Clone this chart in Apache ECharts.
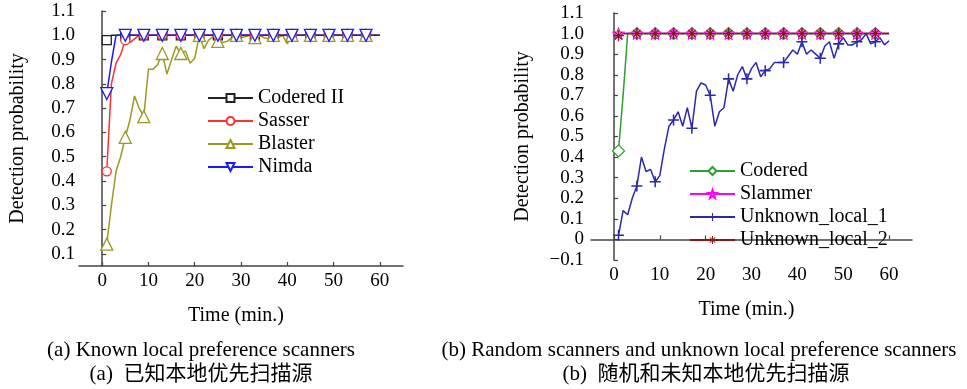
<!DOCTYPE html>
<html>
<head>
<meta charset="utf-8">
<script src="https://cdn.jsdelivr.net/npm/echarts@6/dist/echarts.min.js"></script>
<style>
  html, body { margin: 0; padding: 0; background: #fff; }
  #chart { width: 967px; height: 389px; }
</style>
</head>
<body>
<div id="chart"></div>
<script>
// minutes sampled (1 point per minute)
var minutes = [1,2,3,4,5,6,7,8,9,10,11,12,13,14,15,16,17,18,19,20,
  21,22,23,24,25,26,27,28,29,30,31,32,33,34,35,36,37,38,39,40,
  41,42,43,44,45,46,47,48,49,50,51,52,53,54,55,56,57,58,59,60];

// (a) known local preference scanners
var coderedII = [0.98,1,1,1,1,1,1,1,1,1, 1,1,1,1,1,1,1,1,1,1,
  1,1,1,1,1,1,1,1,1,1, 1,1,1,1,1,1,1,1,1,1, 1,1,1,1,1,1,1,1,1,1, 1,1,1,1,1,1,1,1,1,1];
var sasser = [0.44,0.80,0.885,0.92,0.98,0.97,0.985,1,1,1, 1,1,1,1,1,1,1,1,1,1,
  1,1,1,1,1,1,1,1,1,1, 1,1,1,1,1,1,1,1,1,1, 1,1,1,1,1,1,1,1,1,1, 1,1,1,1,1,1,1,1,1,1];
var blaster = [0.14,0.30,0.44,0.50,0.58,0.65,0.75,0.70,0.665,0.86,
  0.86,0.88,0.925,0.84,0.90,0.955,0.925,0.935,0.885,0.905,
  1.0,0.945,0.98,0.995,0.975,0.97,0.975,0.99,1.0,0.99,
  0.995,1.0,0.99,1.0,0.99,0.985,1.0,0.99,1.0,0.965,
  1,1,1,1,1,1,1,1,1,1, 1,1,1,1,1,1,1,1,1,1];
var nimda = [0.76,0.89,1,1,1,1,1,1,1,1, 1,1,1,1,1,1,1,1,1,1,
  1,1,1,1,1,1,1,1,1,1, 1,1,1,1,1,1,1,1,1,1, 1,1,1,1,1,1,1,1,1,1, 1,1,1,1,1,1,1,1,1,1];

// (b) random scanners and unknown local preference scanners
var codered = [0.43,0.70,1,1,1,1,1,1,1,1, 1,1,1,1,1,1,1,1,1,1,
  1,1,1,1,1,1,1,1,1,1, 1,1,1,1,1,1,1,1,1,1, 1,1,1,1,1,1,1,1,1,1, 1,1,1,1,1,1,1,1,1,1];
var slammer = [1,1,1,1,1,1,1,1,1,1, 1,1,1,1,1,1,1,1,1,1,
  1,1,1,1,1,1,1,1,1,1, 1,1,1,1,1,1,1,1,1,1, 1,1,1,1,1,1,1,1,1,1, 1,1,1,1,1,1,1,1,1,1];
var unknownLocal1 = [0.02,0.14,0.12,0.20,0.26,0.40,0.33,0.34,0.28,0.31,
  0.44,0.55,0.58,0.62,0.55,0.64,0.54,0.72,0.76,0.75,
  0.70,0.55,0.62,0.64,0.78,0.72,0.80,0.84,0.78,0.83,
  0.86,0.79,0.82,0.83,0.86,0.86,0.86,0.89,0.92,0.90,
  0.96,0.90,0.92,0.90,0.88,0.94,0.96,0.88,0.95,0.98,
  0.945,0.945,0.96,0.97,1.0,0.95,0.96,0.98,0.945,0.965];
var unknownLocal2 = [0.99,1,1,1,1,1,1,1,1,1, 1,1,1,1,1,1,1,1,1,1,
  1,1,1,1,1,1,1,1,1,1, 1,1,1,1,1,1,1,1,1,1, 1,1,1,1,1,1,1,1,1,1, 1,1,1,1,1,1,1,1,1,1];

var xTicks = [0,10,20,30,40,50,60];
var yTicksA = [0.1,0.2,0.3,0.4,0.5,0.6,0.7,0.8,0.9,1.0,1.1];
var yTicksB = [-0.1,0,0.1,0.2,0.3,0.4,0.5,0.6,0.7,0.8,0.9,1.0,1.1];

var serif = 'Liberation Serif';
var axisColor = '#444';

var starPath = 'path://M5,0 L6.18,3.38 L9.76,3.46 L6.9,5.62 L7.94,9.05 L5,7 L2.06,9.05 L3.1,5.62 L0.24,3.46 L3.82,3.38 Z';
var plusPath = 'path://M4.3,0 L5.7,0 L5.7,4.3 L10,4.3 L10,5.7 L5.7,5.7 L5.7,10 L4.3,10 L4.3,5.7 L0,5.7 L0,4.3 L4.3,4.3 Z';
var asteriskPath = 'path://M4.4,0 L5.6,0 L5.6,10 L4.4,10 Z M0,4.4 L10,4.4 L10,5.6 L0,5.6 Z M1.2,2 L2,1.2 L8.8,8 L8,8.8 Z M8,1.2 L8.8,2 L2,8.8 L1.2,8 Z';

function pairs(vals) {
  return minutes.map(function (m, i) { return [m, vals[i]]; });
}

function markSize(size) {
  return function (val, params) { return params.dataIndex % 4 === 0 ? size : 0; };
}

function line(name, vals, color, symbol, size, gi, opts) {
  var s = {
    name: name,
    type: 'line',
    xAxisIndex: gi,
    yAxisIndex: gi,
    data: pairs(vals),
    symbol: symbol,
    symbolSize: markSize(size),
    showAllSymbol: true,
    lineStyle: { color: color, width: 1.5 },
    itemStyle: { color: '#fff', borderColor: color, borderWidth: 1.3 },
    animation: false
  };
  if (opts) { for (var k in opts) s[k] = opts[k]; }
  return s;
}

function xAxis(gi) {
  return {
    type: 'value', gridIndex: gi, min: -5, max: 65,
    name: 'Time (min.)', nameLocation: 'middle', nameGap: 40, nameMoveOverlap: false,
    nameTextStyle: { fontFamily: serif, fontSize: 20, color: '#000', padding: [0, 10, 0, 0] },
    axisLine: { lineStyle: { color: axisColor, width: 1.5 } },
    axisTick: { inside: true, length: 4, customValues: xTicks, lineStyle: { color: axisColor, width: 1.2 } },
    axisLabel: { customValues: xTicks, margin: 6, fontFamily: serif, fontSize: 19, color: '#000' },
    splitLine: { show: false }
  };
}

function yAxis(gi, min, ticks, gap, margin, fmt) {
  return {
    type: 'value', gridIndex: gi, min: min, max: 1.1,
    name: 'Detection probability', nameLocation: 'middle', nameGap: gap, nameRotate: 90,
    nameMoveOverlap: false,
    nameTextStyle: { fontFamily: serif, fontSize: 20, color: '#000' },
    axisLine: { show: true, lineStyle: { color: axisColor, width: 1.5 } },
    axisTick: { show: true, inside: true, length: 4, customValues: ticks, lineStyle: { color: axisColor, width: 1.2 } },
    axisLabel: { customValues: ticks, margin: margin, fontFamily: serif, fontSize: 19, color: '#000', formatter: fmt },
    splitLine: { show: false }
  };
}

var legendBase = {
  orient: 'vertical',
  itemWidth: 45,
  itemHeight: 10,
  itemGap: 3,
  selectedMode: false,
  textStyle: { fontFamily: serif, fontSize: 20, color: '#000', lineHeight: 20 }
};

var chart = echarts.init(document.getElementById('chart'), null, { renderer: 'canvas' });
chart.setOption({
  backgroundColor: '#fff',
  animation: false,
  grid: [
    { left: 79, top: 11, width: 324, height: 255, outerBoundsMode: 'none' },
    { left: 591, top: 13, width: 321, height: 247, outerBoundsMode: 'none' }
  ],
  xAxis: [xAxis(0), xAxis(1)],
  yAxis: [
    yAxis(0, 0.05, yTicksA, 51, 4, function (v) { return v.toFixed(1); }),
    yAxis(1, -0.1, yTicksB, 58, 7, function (v) {
      if (Math.abs(v) < 1e-9) return '0';
      if (v < 0) return '\u2212' + Math.abs(v).toFixed(1);
      return v.toFixed(1);
    })
  ],
  legend: [
    Object.assign({}, legendBase, { left: 202, top: 83, data: ['Codered II', 'Sasser', 'Blaster', 'Nimda'] }),
    Object.assign({}, legendBase, { left: 684, top: 156, data: ['Codered', 'Slammer', 'Unknown_local_1', 'Unknown_local_2'] })
  ],
  series: [
    line('Codered II', coderedII, '#222', 'rect', 9, 0),
    line('Sasser', sasser, '#ff3030', 'circle', 9, 0),
    line('Blaster', blaster, '#9a9a22', 'triangle', 12, 0),
    line('Nimda', nimda, '#1a1aff', 'triangle', 12, 0, { symbolRotate: 180 }),
    line('Codered', codered, '#2fa02f', 'diamond', 12, 1),
    line('Slammer', slammer, '#ff00ff', starPath, 12, 1, { itemStyle: { color: '#ff99ff', borderColor: '#ff00ff', borderWidth: 1 } }),
    line('Unknown_local_1', unknownLocal1, '#2a2aae', plusPath, 11, 1, { itemStyle: { color: '#2a2aae' } }),
    line('Unknown_local_2', unknownLocal2, '#8b1414', asteriskPath, 11, 1, { itemStyle: { color: '#8b1414' } })
  ],
  graphic: [
    { type: 'text', x: 201, y: 340, style: { text: '(a) Known local preference scanners', font: '21px "Liberation Serif"', fill: '#000', align: 'center' } },
    { type: 'text', x: 201, y: 364, style: { text: '(a)  已知本地优先扫描源', font: '21px "Liberation Serif", "Noto Sans CJK SC"', fill: '#000', align: 'center' } },
    { type: 'text', x: 699, y: 340, style: { text: '(b) Random scanners and unknown local preference scanners', font: '21px "Liberation Serif"', fill: '#000', align: 'center' } },
    { type: 'text', x: 706, y: 364, style: { text: '(b)  随机和未知本地优先扫描源', font: '21px "Liberation Serif", "Noto Sans CJK SC"', fill: '#000', align: 'center' } }
  ]
});
</script>
</body>
</html>
